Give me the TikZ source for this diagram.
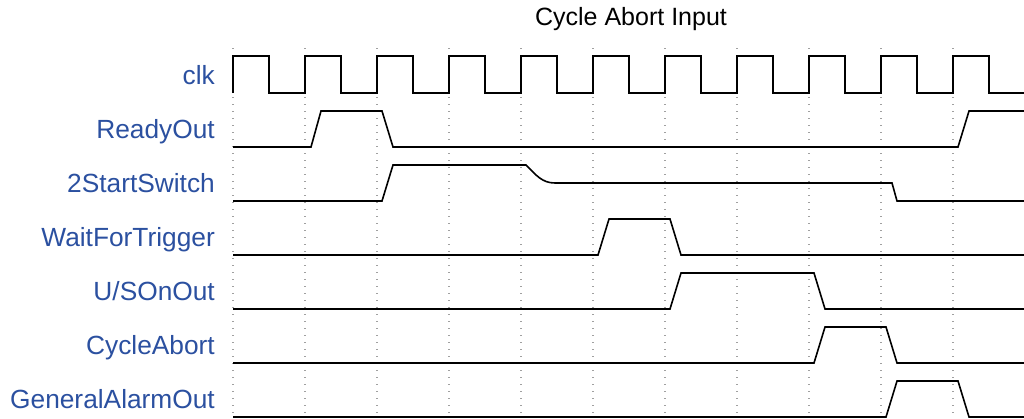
\documentclass[tikz,border=0pt]{standalone}
\usepackage{fontspec}
\setmainfont{Liberation Sans}
\usepackage{tikz}
\usetikzlibrary{positioning}
\definecolor{SigBlue}{HTML}{2B50A0}
\definecolor{GridGray}{HTML}{A0A0A0}

\begin{document}
\begin{tikzpicture}[x=1pt,y=-1pt,
  lbl/.style={anchor=base east,inner sep=0pt,text=SigBlue,
              font=\fontsize{26.3}{31}\selectfont},
  ttl/.style={anchor=base,inner sep=0pt,font=\fontsize{25}{30}\selectfont},
  wave/.style={line width=1.6pt,black,line join=miter},
  gridln/.style={GridGray,line width=1.2pt,dash pattern=on 1.2pt off 5.8pt}]
\useasboundingbox (0,0) rectangle (1024,418);
\node[ttl] (title) at (631,25) {Cycle Abort Input};
% dotted lines at the rising clock edges
\foreach \x in {233,305,...,953}
  \draw[gridln] (\x,48) -- (\x,418);
% signal names
\node[lbl] (lclk)   at (215,84)  {clk};
\node[lbl] (lready) at (215,138) {ReadyOut};
\node[lbl] (lstart) at (215,192) {2StartSwitch};
\node[lbl] (lwait)  at (215,246) {WaitForTrigger};
\node[lbl] (lus)    at (215,300) {U/SOnOut};
\node[lbl] (labort) at (215,354) {CycleAbort};
\node[lbl] (lalarm) at (215,408) {GeneralAlarmOut};
% waveforms
\draw[wave] (233,93) \foreach \k in {0,...,10} {
  -- ++(0,-37) -- ++(36,0) -- ++(0,37) -- ++(36,0)};
\draw[wave] (233,147) -- (311,147) -- (321,111) -- (382,111) -- (393,147)
  -- (958,147) -- (969,111) -- (1024,111);
\draw[wave] (233,201) -- (382,201) -- (393,165) -- (526,165)
  .. controls (536,175) and (542,183) .. (555,183)
  -- (892,183) -- (897,201) -- (1024,201);
\draw[wave] (233,255) -- (598,255) -- (609,219) -- (670,219) -- (681,255)
  -- (1024,255);
\draw[wave] (233,309) -- (670,309) -- (681,273) -- (814,273) -- (825,309)
  -- (1024,309);
\draw[wave] (233,363) -- (814,363) -- (825,327) -- (886,327) -- (897,363)
  -- (1024,363);
\draw[wave] (233,417) -- (886,417) -- (897,381) -- (958,381) -- (969,417)
  -- (1024,417);
\end{tikzpicture}
\end{document}
